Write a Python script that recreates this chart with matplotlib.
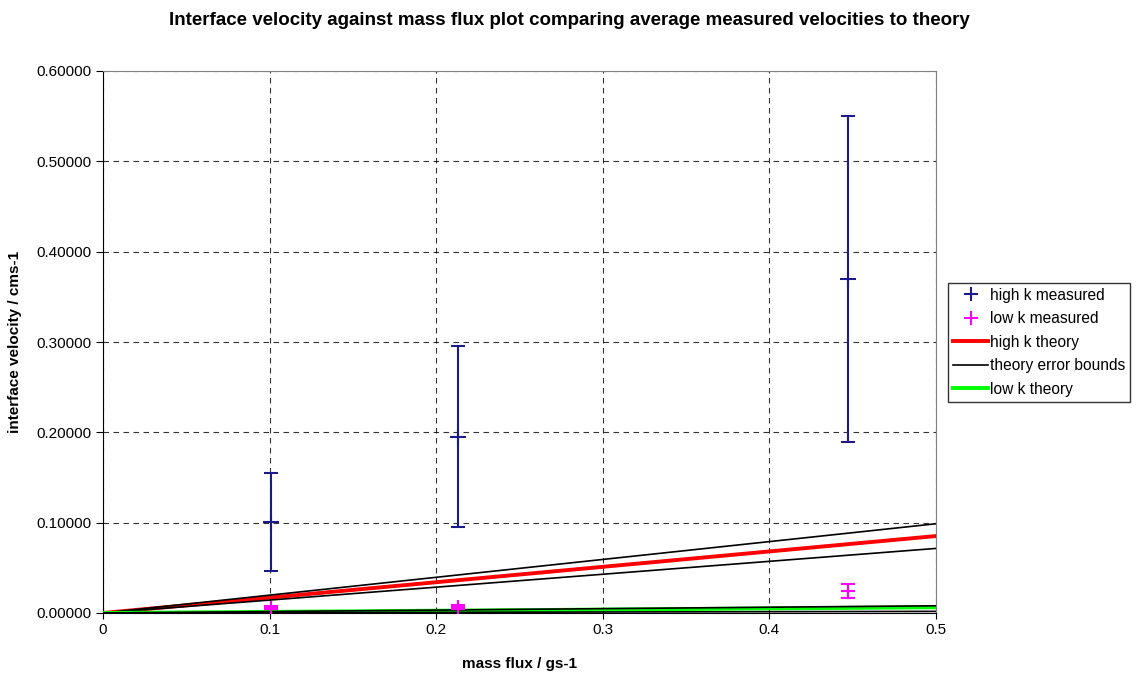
import matplotlib.pyplot as plt
import matplotlib.ticker as ticker
from matplotlib.lines import Line2D

plt.rcParams["font.family"] = ["Liberation Sans", "DejaVu Sans"]

# measured points (mass flux / gs-1, velocity / cms-1)
high_x = [0.1008, 0.2131, 0.4472]
high_y = [0.1007, 0.1952, 0.3701]
high_err = [0.0545, 0.1005, 0.1805]

low_x = [0.1008, 0.2131, 0.4472]
low_y = [0.0060, 0.0068, 0.0244]
low_err = [0.0015, 0.0022, 0.0075]

# theory lines, evaluated at the ends of the range
line_x = [0.0, 0.5]
high_theory = [0.0, 0.0852]
high_upper = [0.0, 0.0988]
high_lower = [0.0, 0.0715]
low_theory = [0.0, 0.0063]
low_upper = [0.0, 0.0080]
low_lower = [0.0, 0.0018]

legend_labels = ["high k measured", "low k measured", "high k theory",
                 "theory error bounds", "low k theory"]

navy = "#1a1a8c"
pink = "#ff00ff"
green = "#00ff00"

fig = plt.figure(figsize=(11.39, 6.77), dpi=100)
ax = fig.add_axes([103 / 1139, 1 - 613 / 677, 833 / 1139, 542 / 677])

ax.errorbar(high_x, high_y, yerr=high_err, fmt="+", color=navy, ecolor=navy,
            markersize=12, markeredgewidth=1.5, elinewidth=1.5, capsize=5, capthick=1.5, zorder=5)
ax.errorbar(low_x, low_y, yerr=low_err, fmt="+", color=pink, ecolor=pink,
            markersize=10, markeredgewidth=1.5, elinewidth=1.5, capsize=5, capthick=1.5, zorder=5)

ax.plot(line_x, high_theory, color="red", linewidth=2.8, zorder=3)
ax.plot(line_x, high_upper, color="black", linewidth=1.2, zorder=3)
ax.plot(line_x, high_lower, color="black", linewidth=1.2, zorder=3)
ax.plot(line_x, low_theory, color=green, linewidth=2.8, zorder=3)
ax.plot(line_x, low_upper, color="black", linewidth=1.2, zorder=3)
ax.plot(line_x, low_lower, color="black", linewidth=1.2, zorder=3)

ax.set_xlim(0, 0.5)
ax.set_ylim(0, 0.6)
ax.set_xticks([0, 0.1, 0.2, 0.3, 0.4, 0.5])
ax.xaxis.set_major_formatter(ticker.FuncFormatter(lambda v, p: "0" if v == 0 else f"{v:g}"))
ax.set_yticks([0, 0.1, 0.2, 0.3, 0.4, 0.5, 0.6])
ax.yaxis.set_major_formatter(ticker.FormatStrFormatter("%.5f"))
ax.tick_params(labelsize=11, length=5, color="black")
ax.tick_params(axis="x", direction="inout", length=8)

ax.grid(True, color="black", linestyle=(0, (5, 4)), linewidth=0.8, alpha=0.8)
ax.set_axisbelow(True)
for side in ["top", "right"]:
    ax.spines[side].set_color("#808080")
for side in ["left", "bottom"]:
    ax.spines[side].set_color("black")

ax.set_xlabel("mass flux / gs-1", fontsize=11, fontweight="bold", labelpad=14)
ax.set_ylabel("interface velocity / cms-1", fontsize=11, fontweight="bold", labelpad=10)
fig.suptitle("Interface velocity against mass flux plot comparing average measured velocities to theory",
             fontsize=13.5, fontweight="bold", x=0.5, y=0.983)

# legend: crosses for measured series, lines for theory
handles = [
    Line2D([], [], linestyle="none", marker="+", color=navy, markersize=10, markeredgewidth=1.5),
    Line2D([], [], linestyle="none", marker="+", color=pink, markersize=10, markeredgewidth=1.5),
    Line2D([], [], color="red", linewidth=2.8),
    Line2D([], [], color="black", linewidth=1.2),
    Line2D([], [], color=green, linewidth=2.8),
]
leg = ax.legend(handles, legend_labels, loc="upper left",
                bbox_to_anchor=((948 - 103) / 833, 1 - (283 - 71) / 542),
                fontsize=11.2, frameon=True, fancybox=False, edgecolor="black",
                handlelength=2.3, handletextpad=0.1, borderpad=0.3, labelspacing=0.55,
                borderaxespad=0)
leg.get_frame().set_linewidth(1.0)

plt.savefig("out.png", dpi=100)
